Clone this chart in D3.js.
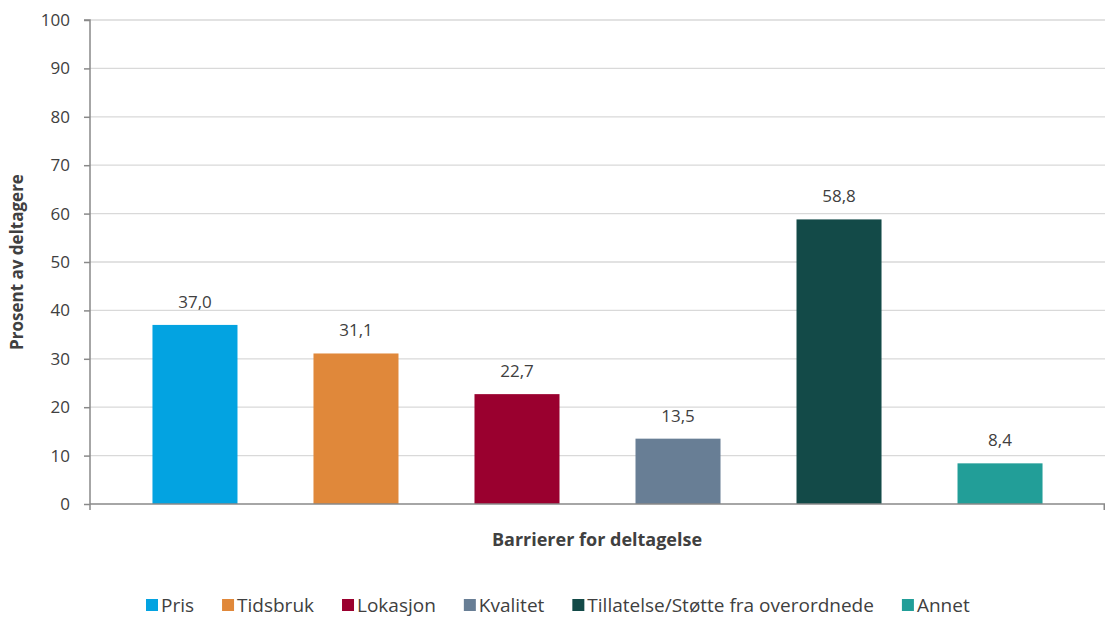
<!DOCTYPE html>
<html><head><meta charset="utf-8">
<script src="https://cdn.jsdelivr.net/npm/d3@7"></script>
<style>body{margin:0;background:#fff}svg{display:block}</style>
</head><body>
<script>
const categories = ["Pris","Tidsbruk","Lokasjon","Kvalitet","Tillatelse/Støtte fra overordnede","Annet"];
const values = [37.0,31.1,22.7,13.5,58.8,8.4];
const colors = ["#03A3E1","#E0883A","#9A002F","#687E95","#134A48","#229E98"];
const yTicks = [0,10,20,30,40,50,60,70,80,90,100];

const W=1105,H=617;
const font="'Open Sans', sans-serif";
const fs=17;
const txt="#404040";
const svg=d3.select("body").append("svg").attr("width",W).attr("height",H);
const pL=90,pR=1105,pT=20,pB=504;
const y=d3.scaleLinear().domain([0,100]).range([pB,pT]);
const x=d3.scaleBand().domain(categories).range([pL,pR]).paddingInner(0.472).paddingOuter(0.388);

// gridlines
svg.append("g").selectAll("line").data(yTicks.filter(d=>d>0)).join("line")
 .attr("x1",pL).attr("x2",pR).attr("y1",d=>y(d)).attr("y2",d=>y(d))
 .attr("stroke","#d9d9d9").attr("stroke-width",1.3);

// y axis
const ya=svg.append("g").attr("transform",`translate(${pL},0)`)
 .call(d3.axisLeft(y).tickValues(yTicks).tickSize(6).tickPadding(14).tickFormat(d3.format("d")));
ya.select(".domain").attr("stroke","#898989").attr("stroke-width",1.5).attr("d",`M-6,${pT}H0V${pB+6}`);
ya.selectAll(".tick line").attr("stroke","#898989").attr("stroke-width",1.5);
ya.selectAll("text").attr("font-family",font).attr("font-size",fs).attr("fill",txt);

// bars
svg.append("g").selectAll("rect").data(values).join("rect")
 .attr("x",(d,i)=>x(categories[i])).attr("width",x.bandwidth())
 .attr("y",d=>y(d)).attr("height",d=>y(0)-y(d)).attr("fill",(d,i)=>colors[i]);

// x axis baseline
svg.append("line").attr("x1",pL).attr("x2",pR).attr("y1",pB).attr("y2",pB)
 .attr("stroke","#898989").attr("stroke-width",1.5);
svg.append("line").attr("x1",pR-0.75).attr("x2",pR-0.75).attr("y1",pB).attr("y2",pB+6)
 .attr("stroke","#898989").attr("stroke-width",1.5);

// value labels
const fmt=d=>d3.format(".1f")(d).replace(".",",");
svg.append("g").selectAll("text").data(values).join("text")
 .attr("x",(d,i)=>x(categories[i])+x.bandwidth()/2).attr("y",d=>y(d)-17)
 .attr("text-anchor","middle").attr("font-family",font).attr("font-size",fs).attr("fill",txt)
 .text(fmt);

// axis titles
svg.append("text").attr("x",597).attr("y",546).attr("text-anchor","middle")
 .attr("font-family",font).attr("font-size",18).attr("font-weight","bold").attr("fill",txt)
 .text("Barrierer for deltagelse");
svg.append("text").attr("transform","translate(23,262) rotate(-90)").attr("text-anchor","middle")
 .attr("font-family",font).attr("font-size",fs).attr("font-weight","bold").attr("fill",txt)
 .text("Prosent av deltagere");

// legend
const lg=svg.append("g");
let lx=146;
categories.forEach((c,i)=>{
  const g=lg.append("g").attr("transform",`translate(${lx},0)`);
  g.append("rect").attr("x",0).attr("y",599).attr("width",12).attr("height",12).attr("fill",colors[i]);
  const t=g.append("text").attr("x",15).attr("y",612).attr("font-family",font).attr("font-size",19).attr("fill",txt).text(c);
  lx+=15+t.node().getComputedTextLength()+28;
});
</script>
</body></html>
